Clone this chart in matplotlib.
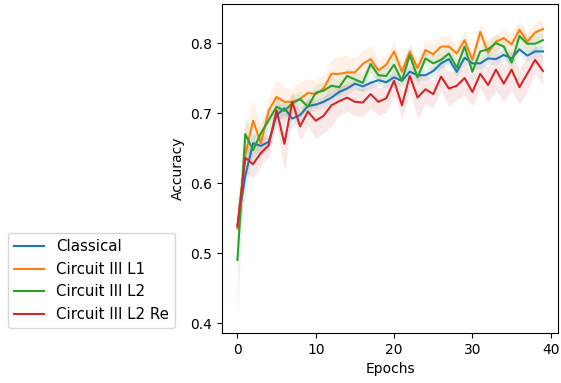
import numpy as np
import matplotlib.pyplot as plt

# datos (media y desviacion por epoca)
epochs = np.arange(40)

classical = [0.540, 0.610, 0.657, 0.653, 0.659, 0.697, 0.707, 0.692, 0.697, 0.710,
             0.712, 0.716, 0.722, 0.730, 0.735, 0.742, 0.738, 0.743, 0.747, 0.744,
             0.751, 0.746, 0.759, 0.754, 0.754, 0.760, 0.771, 0.777, 0.759, 0.779,
             0.771, 0.771, 0.778, 0.777, 0.783, 0.778, 0.791, 0.782, 0.788, 0.788]
classical_sd = [0.030, 0.030, 0.015, 0.012, 0.012, 0.012, 0.010, 0.012, 0.010, 0.010,
                0.008, 0.008, 0.008, 0.008, 0.008, 0.008, 0.008, 0.008, 0.008, 0.008,
                0.008, 0.008, 0.008, 0.008, 0.008, 0.008, 0.008, 0.008, 0.008, 0.008,
                0.008, 0.008, 0.008, 0.008, 0.008, 0.008, 0.008, 0.008, 0.008, 0.008]

l1 = [0.535, 0.640, 0.689, 0.657, 0.704, 0.723, 0.716, 0.716, 0.720, 0.729,
      0.727, 0.735, 0.756, 0.756, 0.758, 0.758, 0.770, 0.777, 0.761, 0.769,
      0.788, 0.759, 0.788, 0.764, 0.790, 0.784, 0.795, 0.795, 0.785, 0.804,
      0.776, 0.816, 0.786, 0.802, 0.807, 0.798, 0.819, 0.802, 0.815, 0.820]
l1_sd = [0.020, 0.040, 0.030, 0.020, 0.020, 0.025, 0.020, 0.020, 0.025, 0.020,
         0.020, 0.020, 0.020, 0.025, 0.025, 0.020, 0.020, 0.020, 0.015, 0.015,
         0.015, 0.012, 0.012, 0.012, 0.015, 0.015, 0.015, 0.015, 0.012, 0.015,
         0.012, 0.012, 0.015, 0.012, 0.012, 0.015, 0.015, 0.015, 0.015, 0.015]

l2 = [0.490, 0.670, 0.647, 0.671, 0.690, 0.709, 0.703, 0.714, 0.720, 0.709,
      0.729, 0.732, 0.739, 0.737, 0.753, 0.748, 0.743, 0.770, 0.754, 0.753,
      0.769, 0.746, 0.783, 0.751, 0.778, 0.771, 0.776, 0.785, 0.765, 0.795,
      0.759, 0.788, 0.791, 0.800, 0.795, 0.772, 0.810, 0.799, 0.799, 0.804]
l2_sd = [0.083, 0.025, 0.020, 0.015, 0.015, 0.015, 0.012, 0.012, 0.012, 0.012,
         0.012, 0.012, 0.012, 0.012, 0.012, 0.012, 0.012, 0.012, 0.012, 0.012,
         0.012, 0.012, 0.012, 0.012, 0.012, 0.012, 0.012, 0.012, 0.012, 0.012,
         0.012, 0.012, 0.012, 0.012, 0.012, 0.012, 0.012, 0.012, 0.012, 0.012]

l2_re = [0.538, 0.636, 0.627, 0.643, 0.654, 0.704, 0.656, 0.716, 0.681, 0.702,
         0.689, 0.696, 0.711, 0.717, 0.722, 0.716, 0.715, 0.727, 0.716, 0.721,
         0.746, 0.711, 0.753, 0.722, 0.734, 0.727, 0.752, 0.735, 0.739, 0.750,
         0.730, 0.756, 0.740, 0.762, 0.742, 0.762, 0.737, 0.756, 0.776, 0.760]
l2_re_sd = [0.020, 0.020, 0.020, 0.020, 0.015, 0.020, 0.040, 0.015, 0.020, 0.020,
            0.025, 0.025, 0.030, 0.020, 0.020, 0.020, 0.020, 0.020, 0.020, 0.020,
            0.020, 0.020, 0.020, 0.030, 0.020, 0.020, 0.020, 0.025, 0.020, 0.025,
            0.020, 0.020, 0.025, 0.030, 0.025, 0.030, 0.025, 0.025, 0.020, 0.020]

series = [("Classical", classical, classical_sd, "tab:blue"),
          ("Circuit III L1", l1, l1_sd, "tab:orange"),
          ("Circuit III L2", l2, l2_sd, "tab:green"),
          ("Circuit III L2 Re", l2_re, l2_re_sd, "tab:red")]

fig = plt.figure(figsize=(5.61, 3.83), dpi=100)
ax = fig.add_axes([0.396, 0.131, 0.599, 0.859])

for nombre, m, s, c in series:
    m = np.array(m)
    s = np.array(s)
    ax.plot(epochs, m, color=c, label=nombre)
    ax.fill_between(epochs, m - s, m + s, color=c, alpha=0.1, linewidth=0)

ax.set_ylim(0.386, 0.856)
ax.set_xlabel("Epochs")
ax.set_ylabel("Accuracy")
ax.legend(loc="lower right", bbox_to_anchor=(-0.14, 0.015), borderaxespad=0,
          fontsize=10.8)

fig.savefig("out.png", dpi=100)
